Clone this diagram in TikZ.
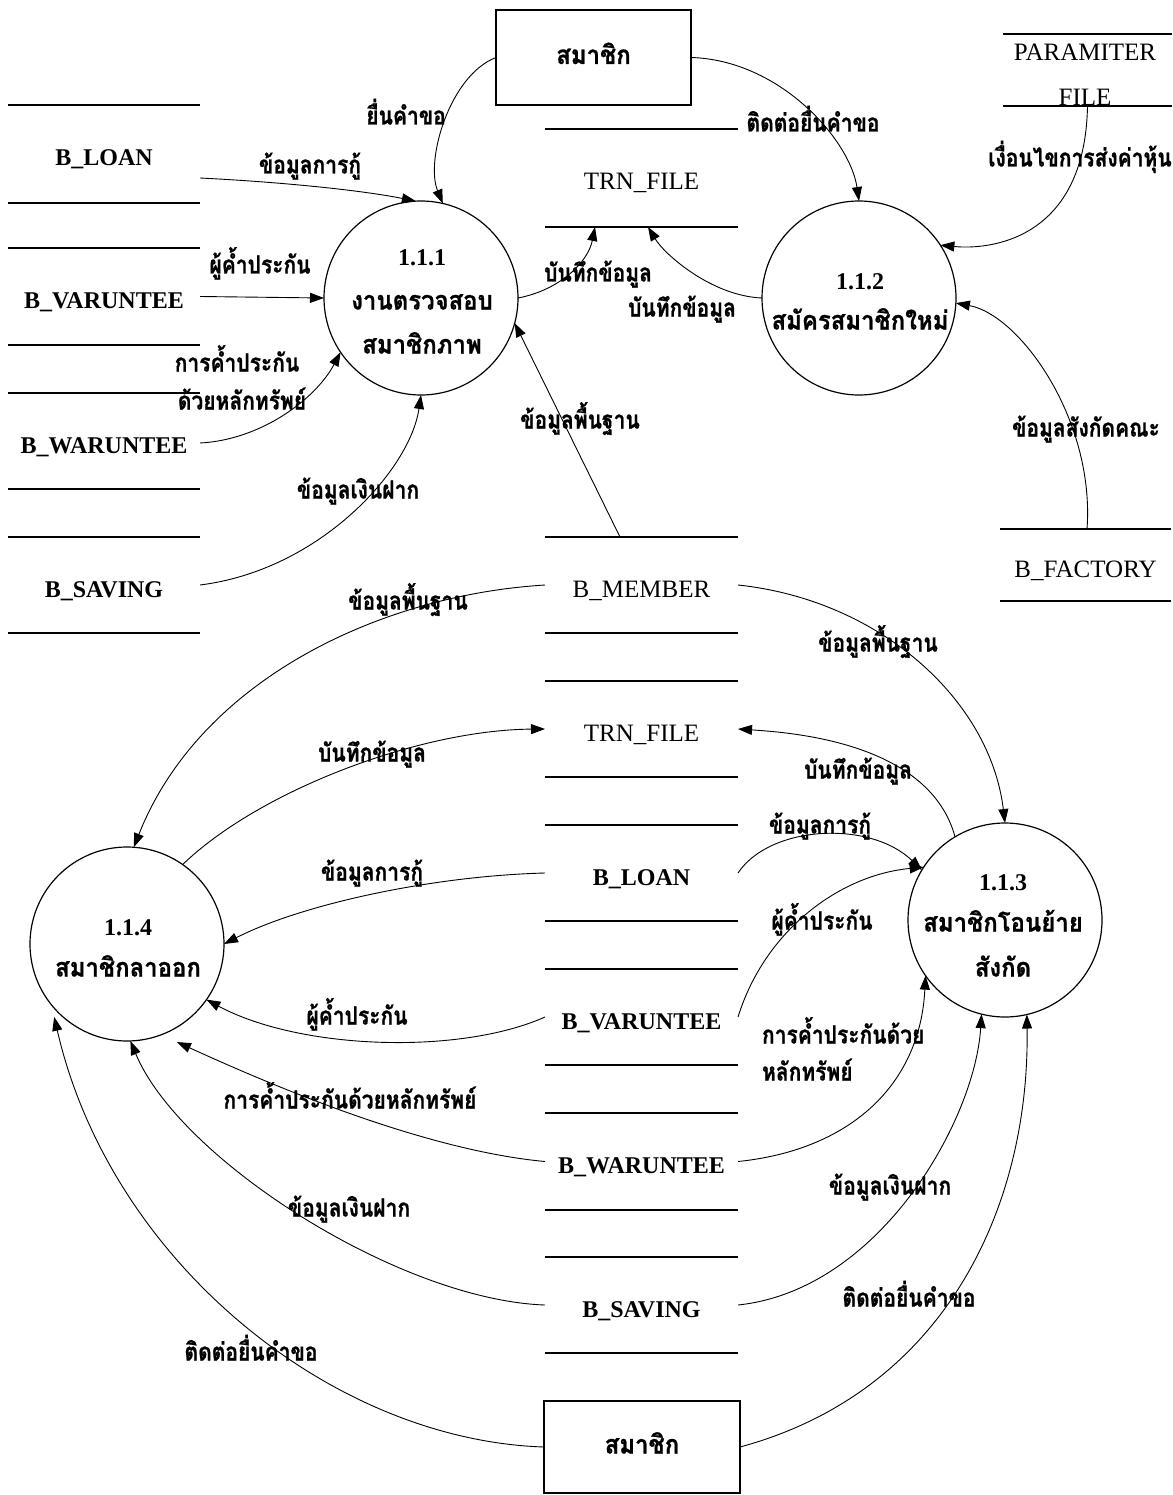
\documentclass[tikz,border=0pt]{standalone}
\usepackage{fontspec}
\setmainfont{Liberation Serif}
\newfontfamily\thaifont[Script=Thai,FakeStretch=0.84,BoldFeatures={FakeBold=0.8}]{Loma}
\newfontfamily\thaiwide[Script=Thai,FakeStretch=0.92,BoldFeatures={FakeBold=0.8}]{Loma}
\usetikzlibrary{arrows.meta,calc}

\begin{document}
\begin{tikzpicture}[x=1pt,y=-1pt,
  every node/.style={inner sep=0pt,outer sep=0pt},
  sline/.style={line width=1.8pt},
  store/.style={minimum width=193pt,minimum height=96pt,text height=24pt,text depth=0pt,
    append after command={(\tikzlastnode.north west) edge[sline] (\tikzlastnode.north east)
                          (\tikzlastnode.south west) edge[sline] (\tikzlastnode.south east)}},
  lat/.style={font=\fontsize{25}{28}\selectfont},
  latb/.style={font=\bfseries\fontsize{24}{28}\selectfont},
  num/.style={font=\bfseries\fontsize{24}{28}\selectfont,text height=16pt,text depth=0pt},
  th/.style={font=\thaifont\bfseries\fontsize{25}{28}\selectfont,text height=13pt,text depth=0pt},
  thw/.style={font=\thaiwide\bfseries\fontsize{26}{30}\selectfont,text height=13pt,text depth=0pt},
  proc/.style={circle,draw,line width=1.2pt,minimum size=194pt},
  ent/.style={draw,line width=1.4pt,minimum width=195pt,minimum height=95pt,text height=24pt},
  flow/.style={line width=0.9pt,-{Triangle[length=14pt,width=10pt]}}
]
\fill[white] (0,0) rectangle (1172,1495);
\useasboundingbox (0,0) rectangle (1172,1495);

% processes
\node[proc] (c111) at (421,298) {};
\node[proc] (c112) at (859,298) {};
\node[proc] (c113) at (1005,920) {};
\node[proc] (c114) at (127,944) {};
\node[num] (n111) at (422,258) {1.1.1};
\node[thw] (t111a) at (422,303) {งานตรวจสอบ};
\node[thw] (t111b) at (422,347) {สมาชิกภาพ};
\node[num] (n112) at (860,282) {1.1.2};
\node[thw] (t112) at (860,323) {สมัครสมาชิกใหม่};
\node[num] (n113) at (1003,882) {1.1.3};
\node[thw] (t113a) at (1003,925) {สมาชิกโอนย้าย};
\node[thw] (t113b) at (1003,970) {สังกัด};
\node[num] (n114) at (128,927) {1.1.4};
\node[thw] (t114) at (128,970) {สมาชิกลาออก};

% external entities
\node[ent,thw] (memtop) at (593.5,57.5) {สมาชิก};
\node[ent,thw,minimum width=196pt,minimum height=92pt] (membot) at (642,1447) {สมาชิก};

% data stores, left column
\node[store,latb,minimum width=192pt,minimum height=98pt] (sbl) at (104,154) {B\_LOAN};
\node[store,latb,minimum width=192pt,minimum height=97pt] (sbv) at (104,296.5) {B\_VARUNTEE};
\node[store,latb,minimum width=192pt] (sbw) at (104,441) {B\_WARUNTEE};
\node[store,latb,minimum width=192pt] (sbs) at (104,585) {B\_SAVING};

% data stores, centre column
\node[store,lat,minimum height=98pt] (trn1) at (641.5,178) {TRN\_FILE};
\node[store,lat] (bmem) at (641.5,585) {B\_MEMBER};
\node[store,lat] (trn2) at (641.5,729) {TRN\_FILE};
\node[store,latb] (bln2) at (641.5,873) {B\_LOAN};
\node[store,latb] (bvr2) at (641.5,1017) {B\_VARUNTEE};
\node[store,latb,minimum height=97pt] (bwr2) at (641.5,1161.5) {B\_WARUNTEE};
\node[store,latb] (bsv2) at (641.5,1305) {B\_SAVING};

% data stores, right column
\node[store,minimum width=169pt,minimum height=72pt] (param) at (1087.5,70) {};
\node[lat,text height=17pt,text depth=0pt] (paramA) at (1085,52) {PARAMITER};
\node[lat,text height=17pt,text depth=0pt] (paramB) at (1085,97) {FILE};
\node[store,lat,minimum width=171pt,minimum height=72pt] (bfac) at (1085.5,565) {B\_FACTORY};

% flows of process 1.1.1
\draw[flow] (memtop.west) .. controls (450,75) and (425,160) .. (c111.77);
\draw[flow] ([yshift=-24pt]sbl.east) .. controls (280,182) and (360,190) .. (c111.93);
\draw[flow] (sbv.east) -- (c111.west);
\draw[flow] ([yshift=-2pt]sbw.east) .. controls (260,440) and (315,400) .. (c111.214);
\draw[flow] (sbs.east) .. controls (320,570) and (410,470) .. (c111.270);
\draw[flow] ([xshift=-21.5pt]bmem.north) -- (c111.345);
\draw[flow] (c111.east) .. controls (560,290) and (588,262) .. ([xshift=-46.5pt]trn1.south);

% flows of process 1.1.2
\draw[flow] (c112.west) .. controls (712,296) and (665,255) .. ([xshift=6.5pt]trn1.south);
\draw[flow] (memtop.east) .. controls (780,60) and (850,140) .. (c112.north);
\draw[flow] (param.south) .. controls (1085,240) and (990,250) .. (c112.33);
\draw[flow] ([xshift=1.5pt]bfac.north) .. controls (1095,420) and (1020,315) .. (c112.357);

% flows of process 1.1.3
\draw[flow] (bmem.east) .. controls (880,600) and (990,700) .. (c113.north);
\draw[flow] (c113.121) .. controls (930,745) and (800,733) .. (trn2.east);
\draw[flow] (bln2.east) .. controls (770,825) and (870,820) .. (c113.149);
\draw[flow] (bvr2.east) .. controls (765,930) and (840,875) .. (c113.147);
\draw[flow] (bwr2.east) .. controls (850,1150) and (920,1085) .. (c113.215);
\draw[flow] (bsv2.east) .. controls (880,1290) and (975,1120) .. (c113.256);
\draw[flow] (membot.east) .. controls (950,1390) and (1030,1200) .. (c113.283);

% flows of process 1.1.4
\draw[flow] (bmem.west) .. controls (380,595) and (200,680) .. (c114.86);
\draw[flow] (c114.55) .. controls (260,790) and (420,730) .. (trn2.west);
\draw[flow] (bln2.west) .. controls (430,876) and (300,905) .. (c114.east);
\draw[flow] (bvr2.west) .. controls (460,1055) and (300,1050) .. (c114.325);
\draw[flow] (bwr2.west) .. controls (420,1150) and (260,1080) .. ($(c114.center)+(297:110pt)$);
\draw[flow] (bsv2.west) .. controls (400,1300) and (180,1160) .. (c114.272);
\draw[flow] (membot.west) .. controls (330,1440) and (110,1260) .. ($(c114.center)+(225:103pt)$);

% flow labels
\node[th] (l1) at (406,118) {ยื่นคำขอ};
\node[th] (l2) at (310,167) {ข้อมูลการกู้};
\node[th] (l3) at (260,267) {ผู้ค้ำประกัน};
\node[th] (l4) at (237,365) {การค้ำประกัน};
\node[th] (l5) at (242,403) {ด้วยหลักทรัพย์};
\node[th] (l6) at (358,492) {ข้อมูลเงินฝาก};
\node[th] (l7) at (580,422) {ข้อมูลพื้นฐาน};
\node[th] (l8) at (598,275) {บันทึกข้อมูล};
\node[th] (l9) at (682,310) {บันทึกข้อมูล};
\node[th] (l10) at (813,125) {ติดต่อยื่นคำขอ};
\node[th] (l11) at (1080,160) {เงื่อนไขการส่งค่าหุ้น};
\node[th] (l12) at (1086,430) {ข้อมูลสังกัดคณะ};
\node[th] (l13) at (408,603) {ข้อมูลพื้นฐาน};
\node[th] (l14) at (372,755) {บันทึกข้อมูล};
\node[th] (l15) at (878,645) {ข้อมูลพื้นฐาน};
\node[th] (l16) at (858,772) {บันทึกข้อมูล};
\node[th] (l17) at (820,827) {ข้อมูลการกู้};
\node[th] (l18) at (822,923) {ผู้ค้ำประกัน};
\node[th,anchor=west] (l19) at (762,1037) {การค้ำประกันด้วย};
\node[th,anchor=west] (l20) at (762,1074) {หลักทรัพย์};
\node[th] (l21) at (890,1188) {ข้อมูลเงินฝาก};
\node[th] (l22) at (909,1300) {ติดต่อยื่นคำขอ};
\node[th] (l23) at (372,874) {ข้อมูลการกู้};
\node[th] (l24) at (357,1018) {ผู้ค้ำประกัน};
\node[th] (l25) at (350,1102) {การค้ำประกันด้วยหลักทรัพย์};
\node[th] (l26) at (349,1210) {ข้อมูลเงินฝาก};
\node[th] (l27) at (251,1354) {ติดต่อยื่นคำขอ};
\end{tikzpicture}
\end{document}
